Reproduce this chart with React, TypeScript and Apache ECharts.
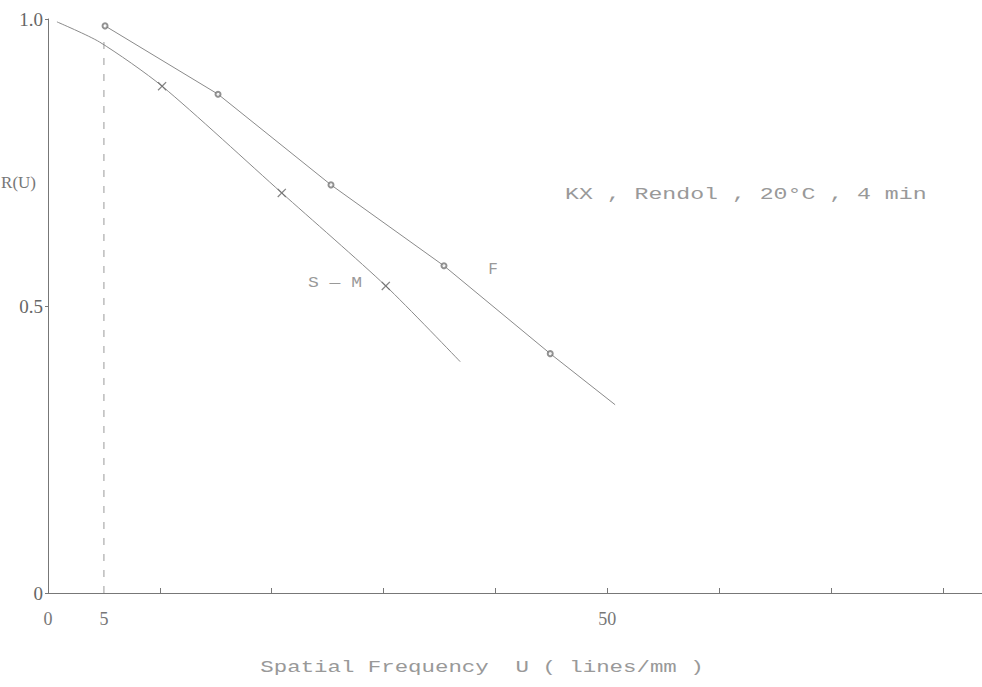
import React, { useEffect, useRef } from "react";
import * as echarts from "echarts";

// Data
const xTickValues = [10, 20, 30, 40, 50, 60, 70, 80];
const xLabelValues = [0, 5, 50];
const yLabelValues = [0, 0.5, 1.0];

// F curve (open circles)
const fPoints: [number, number][] = [
  [5.1, 0.988],
  [15.2, 0.869],
  [25.3, 0.711],
  [35.4, 0.57],
  [44.9, 0.417],
];
const fCurve: [number, number][] = [
  [5.1, 0.988],
  [15.2, 0.869],
  [25.3, 0.711],
  [35.4, 0.57],
  [44.9, 0.417],
  [50.7, 0.328],
];

// S-M curve (crosses)
const smPoints: [number, number][] = [
  [10.2, 0.883],
  [20.9, 0.697],
  [30.2, 0.535],
];
const smCurve: [number, number][] = [
  [0.8, 0.995],
  [4.6, 0.96],
  [10.2, 0.883],
  [20.9, 0.697],
  [30.2, 0.535],
  [36.85, 0.403],
];

// dashed reference line at U = 5
const refLine: [number, number][] = [
  [5, 0],
  [5, 0.97],
];

const CROSS =
  "path://M0,1L1,0L5,4L9,0L10,1L6,5L10,9L9,10L5,6L1,10L0,9L4,5Z";

const LINE = "#8a8a8a";
const TEXT = "#999999";
const MONO = "'Liberation Mono', 'DejaVu Sans Mono', monospace";
const SERIF = "'Liberation Serif', 'DejaVu Serif', serif";

export default function App() {
  const ref = useRef<HTMLDivElement>(null);
  useEffect(() => {
    if (!ref.current) return;
    const chart = echarts.init(ref.current, null, { renderer: "svg" });
    chart.setOption({
      animation: false,
      backgroundColor: "#ffffff",
      grid: { left: 48, right: 0, top: 19, bottom: 94 },
      xAxis: {
        type: "value",
        min: 0,
        max: 83.5,
        splitLine: { show: false },
        axisLine: { lineStyle: { color: "#777", width: 1 } },
        axisTick: {
          show: true,
          inside: true,
          length: 5,
          customValues: xTickValues,
          lineStyle: { color: "#777" },
        },
        axisLabel: {
          customValues: xLabelValues,
          formatter: (v: number) => String(v),
          margin: 17,
          color: "#777",
          fontFamily: SERIF,
          fontSize: 18,
        },
      },
      yAxis: {
        type: "value",
        min: 0,
        max: 1,
        splitLine: { show: false },
        axisLine: { show: true, lineStyle: { color: "#777", width: 1 } },
        axisTick: {
          show: true,
          inside: false,
          length: 3,
          customValues: yLabelValues,
          lineStyle: { color: "#777" },
        },
        axisLabel: {
          customValues: yLabelValues,
          formatter: (v: number) => (v === 0 ? "0" : v.toFixed(1)),
          margin: 5,
          color: "#666",
          fontFamily: SERIF,
          fontSize: 19,
        },
      },
      series: [
        {
          name: "ref",
          type: "line",
          data: refLine,
          symbol: "none",
          lineStyle: { color: "#999", width: 1, type: [7, 9] },
          silent: true,
        },
        {
          name: "F",
          type: "line",
          data: fCurve,
          symbol: "none",
          smooth: false,
          lineStyle: { color: LINE, width: 1 },
        },
        {
          name: "S-M",
          type: "line",
          data: smCurve,
          symbol: "none",
          smooth: 0.25,
          lineStyle: { color: LINE, width: 1 },
        },
        {
          name: "F points",
          type: "scatter",
          data: fPoints,
          symbol: "emptyCircle",
          symbolSize: 5,
          itemStyle: { color: "#777", borderColor: "#777", borderWidth: 1.2 },
          z: 5,
        },
        {
          name: "S-M points",
          type: "scatter",
          data: smPoints,
          symbol: CROSS,
          symbolSize: 9,
          itemStyle: { color: "#666" },
          z: 5,
        },
      ],
      graphic: [
        {
          type: "text",
          x: 36,
          y: 182,
          style: {
            text: "R(U)",
            font: `17px ${SERIF}`,
            fill: "#777",
            align: "right",
            verticalAlign: "middle",
          },
        },
        {
          type: "text",
          x: 565,
          y: 195,
          scaleX: 1.45,
          style: {
            text: "KX , Rendol , 20°C , 4 min",
            font: `16px ${MONO}`,
            fill: TEXT,
            align: "left",
            verticalAlign: "middle",
          },
        },
        {
          type: "text",
          x: 493,
          y: 270,
          style: {
            text: "F",
            font: `16px ${MONO}`,
            fill: TEXT,
            align: "center",
            verticalAlign: "middle",
          },
        },
        {
          type: "text",
          x: 308,
          y: 283,
          scaleX: 1.2,
          style: {
            text: "S — M",
            font: `15px ${MONO}`,
            fill: TEXT,
            align: "left",
            verticalAlign: "middle",
          },
        },
        {
          type: "text",
          x: 482,
          y: 668,
          scaleX: 1.4,
          style: {
            text: "Spatial Frequency  U ( lines/mm )",
            font: `16px ${MONO}`,
            fill: TEXT,
            align: "center",
            verticalAlign: "middle",
          },
        },
      ],
    });
    return () => chart.dispose();
  }, []);
  return (
    <div
      ref={ref}
      style={{ position: "absolute", left: 0, top: 0, width: 982, height: 687 }}
    />
  );
}
